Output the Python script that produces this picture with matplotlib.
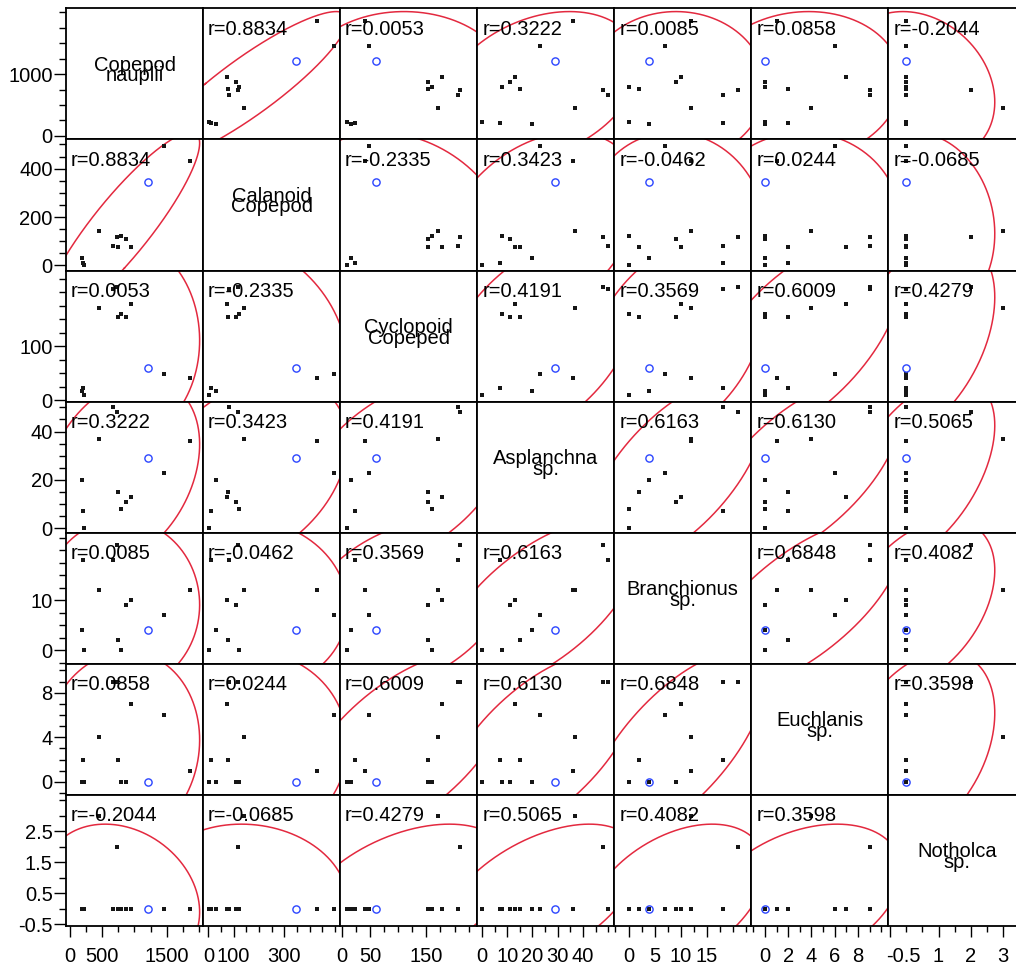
import numpy as np
import matplotlib
matplotlib.use("Agg")
import matplotlib.pyplot as plt
from matplotlib.transforms import ScaledTranslation

plt.rcParams['font.family'] = ['Liberation Sans', 'DejaVu Sans']

# ---------------- data ----------------
name_line1 = ["Copepod", "Calanoid", "Cyclopoid", "Asplanchna", "Branchionus", "Euchlanis", "Notholca"]
name_line2 = ["nauplii", "Copepod", "Copeped", "sp.", "sp.", "sp.", "sp."]

copepod_nauplii = [1860, 1450, 1210, 447, 225, 210, 195, 665, 735, 755, 790, 865, 950]
calanoid_copepod = [430, 495, 346, 142, 2, 11, 30, 82, 118, 77, 123, 109, 75]
cyclopoid_copeped = [41, 48, 60, 170, 10, 23, 16, 206, 210, 153, 160, 153, 178]
asplanchna = [36, 23, 29, 37, 0, 7, 20, 50, 48, 15, 8, 11, 13]
branchionus = [12, 7, 4, 12, 0, 18, 4, 18, 21, 2, 0, 9, 10]
euchlanis = [1, 6, 0, 4, 0, 2, 0, 9, 9, 2, 0, 0, 7]
notholca = [0, 0, 0, 3, 0, 0, 0, 0, 2, 0, 0, 0, 0]
highlighted_row = [False, False, True, False, False, False, False,
                   False, False, False, False, False, False]

r_values = {
    (0, 1): "0.8834", (0, 2): "0.0053", (0, 3): "0.3222", (0, 4): "0.0085",
    (0, 5): "0.0858", (0, 6): "-0.2044",
    (1, 2): "-0.2335", (1, 3): "0.3423", (1, 4): "-0.0462", (1, 5): "0.0244",
    (1, 6): "-0.0685",
    (2, 3): "0.4191", (2, 4): "0.3569", (2, 5): "0.6009", (2, 6): "0.4279",
    (3, 4): "0.6163", (3, 5): "0.6130", (3, 6): "0.5065",
    (4, 5): "0.6848", (4, 6): "0.4082",
    (5, 6): "0.3598",
}

y_tick_labels = [[0, 1000], [0, 200, 400], [0, 100], [0, 20, 40], [0, 10], [0, 4, 8],
                 [-0.5, 0.5, 1.5, 2.5]]
x_tick_labels = [[0, 500, 1500], [0, 100, 300], [0, 50, 150], [0, 10, 20, 30, 40],
                 [0, 5, 10, 15], [0, 2, 4, 6, 8], [-0.5, 1, 2, 3]]

# ---------------- layout / style ----------------
axis_limits = [(-55, 2060), (-21, 521), (-2.8, 240), (-1.9, 52.4), (-2.74, 23.5),
               (-1.17, 10.6), (-0.55, 3.68)]
minor_step = [250, 50, 25, 5, 2.5, 1, 0.5]

columns = [copepod_nauplii, calanoid_copepod, cyclopoid_copeped, asplanchna,
           branchionus, euchlanis, notholca]
data = [np.asarray(c, dtype=float) for c in columns]
hl = np.asarray(highlighted_row)
n = len(data)

W, H = 1016, 968
fig = plt.figure(figsize=(W / 100, H / 100), dpi=100)
fig.patch.set_facecolor("white")

X0, Y0 = 66.0, 8.3
PW, PH = 137.05, 131.1
RED = "#e3293f"
FS = 14.5


def fmt(v):
    return str(int(v)) if float(v).is_integer() else ("%g" % v)


def ellipse_xy(x, y, level=0.95):
    mx, my = x.mean(), y.mean()
    cov = np.cov(x, y)
    vals, vecs = np.linalg.eigh(cov)
    vals = np.clip(vals, 0, None)
    c2 = -2.0 * np.log(1.0 - level)
    t = np.linspace(0, 2 * np.pi, 600)
    circ = np.vstack([np.cos(t), np.sin(t)])
    pts = vecs @ (np.sqrt(vals * c2)[:, None] * circ)
    return pts[0] + mx, pts[1] + my


def all_ticks(lim, step):
    start = np.ceil(lim[0] / step) * step
    return np.arange(start, lim[1] + 1e-9, step)


for i in range(n):          # row -> y variable
    for j in range(n):      # col -> x variable
        left = X0 + j * PW
        top = Y0 + i * PH
        ax = fig.add_axes([left / W, 1 - (top + PH) / H, PW / W, PH / H])
        ax.set_xlim(axis_limits[j])
        ax.set_ylim(axis_limits[i])
        for s in ax.spines.values():
            s.set_linewidth(1.3)
            s.set_color("black")
        ax.set_facecolor("white")

        if i != j:
            x, y = data[j], data[i]
            ex, ey = ellipse_xy(x, y)
            ax.plot(ex, ey, color=RED, lw=1.1, zorder=2)
            ax.plot(x[~hl], y[~hl], ls="none", marker="s", ms=2.4, mew=0,
                    color="#161616", zorder=3)
            ax.plot(x[hl], y[hl], ls="none", marker="o", ms=5.2, mfc="none",
                    mec="#2b45ff", mew=1.0, zorder=4)
            key = (min(i, j), max(i, j))
            fig.text((left + 5) / W, 1 - (top + 26.5) / H, "r=" + r_values[key],
                     fontsize=FS, ha="left", va="baseline", zorder=10)
        else:
            cx = left + PW / 2
            cy = top + PH / 2
            fig.text(cx / W, 1 - (cy - 3) / H, name_line1[i], fontsize=FS,
                     ha="center", va="baseline")
            fig.text(cx / W, 1 - (cy + 7.5) / H, name_line2[i], fontsize=FS,
                     ha="center", va="baseline")

        # ticks
        ax.tick_params(which="both", direction="out", width=1.0, color="black")
        if j == 0:
            lab = y_tick_labels[i]
            others = [v for v in all_ticks(axis_limits[i], minor_step[i])
                      if not any(abs(v - l) < 1e-9 for l in lab)]
            ax.set_yticks(lab)
            ax.set_yticklabels([fmt(v) for v in lab], fontsize=FS)
            ax.set_yticks(others, minor=True)
            ax.tick_params(axis="y", which="major", length=8.5, pad=1)
            ax.tick_params(axis="y", which="minor", length=5)
        else:
            ax.set_yticks([])
            ax.set_yticks([], minor=True)
        if i == n - 1:
            lab = x_tick_labels[j]
            others = [v for v in all_ticks(axis_limits[j], minor_step[j])
                      if not any(abs(v - l) < 1e-9 for l in lab)]
            ax.set_xticks(lab)
            ax.set_xticklabels([fmt(v) for v in lab], fontsize=FS)
            ax.set_xticks(others, minor=True)
            ax.tick_params(axis="x", which="major", length=8, pad=7)
            ax.tick_params(axis="x", which="minor", length=4.5)
            # negative labels sit with their digits centred on the tick
            for tl, v in zip(ax.get_xticklabels(), lab):
                if v < 0:
                    tl.set_transform(tl.get_transform() +
                                     ScaledTranslation(13 / 100, 0, fig.dpi_scale_trans))
        else:
            ax.set_xticks([])
            ax.set_xticks([], minor=True)

fig.savefig("out.png", dpi=100)
